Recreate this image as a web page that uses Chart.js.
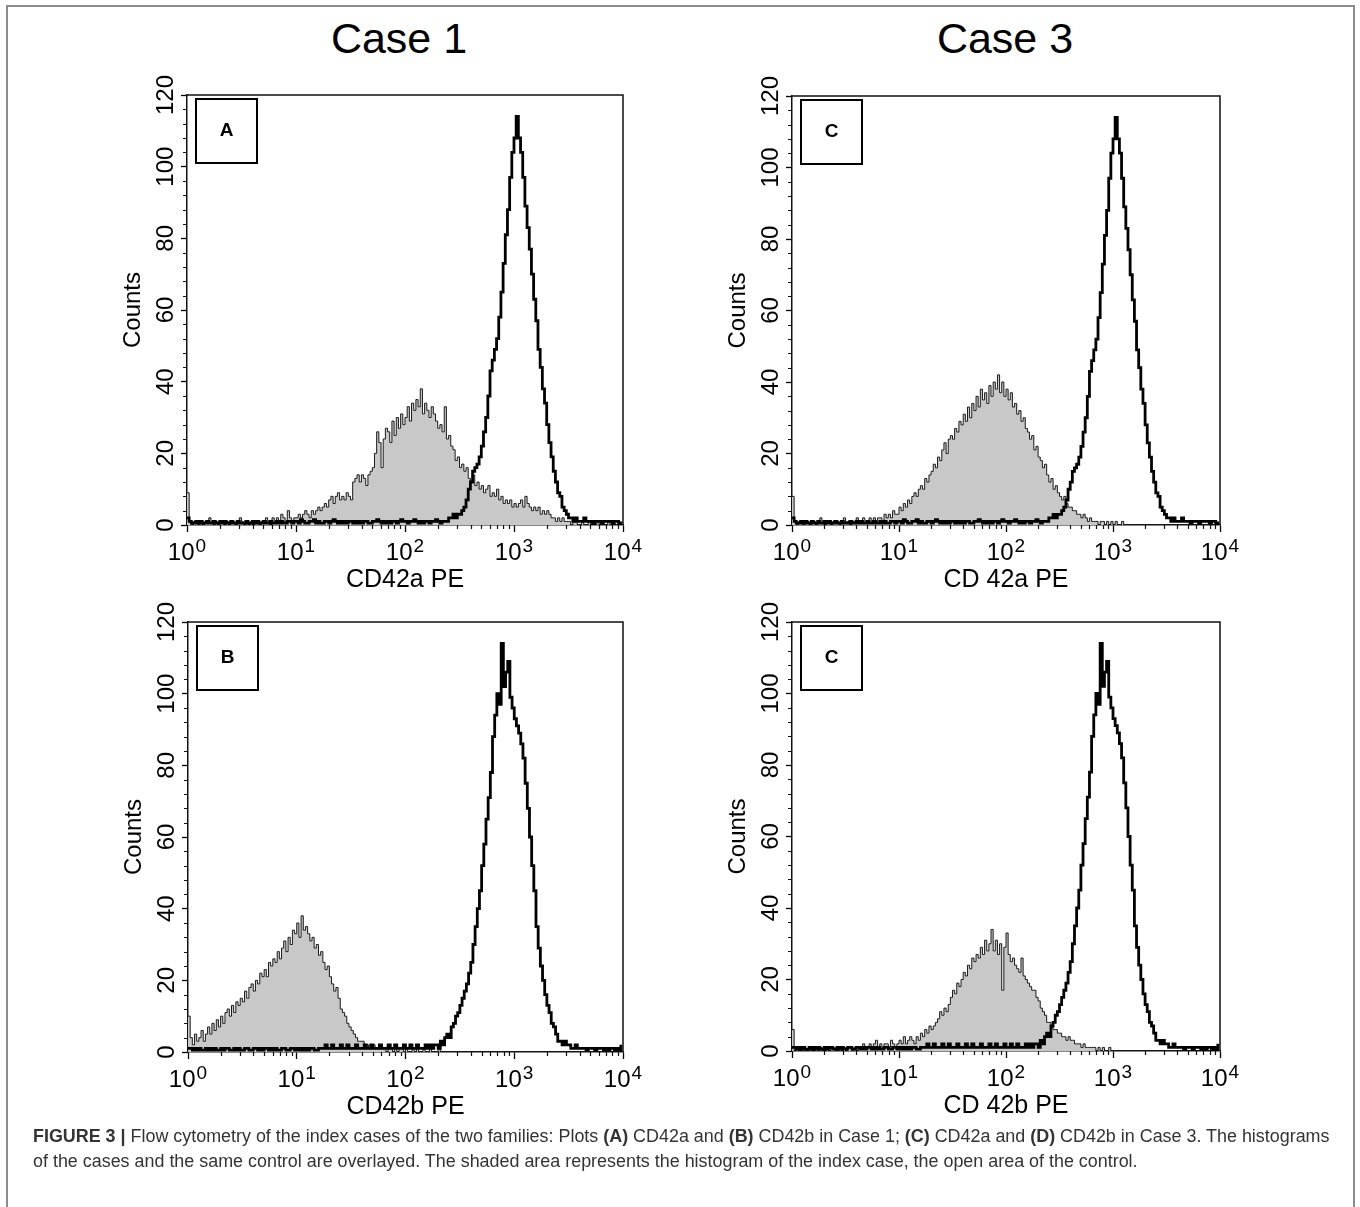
<!DOCTYPE html>
<html><head><meta charset="utf-8">
<script src="https://cdn.jsdelivr.net/npm/chart.js@4.4.1/dist/chart.umd.min.js"></script>
<style>
html,body{margin:0;padding:0;background:#fff;}
body{width:1360px;height:1207px;position:relative;overflow:hidden;font-family:"Liberation Sans",Arial,sans-serif;}
#frame{position:absolute;left:6px;top:5px;width:1349px;height:1220px;border:2px solid #8c8c8c;box-sizing:border-box;}
.case{position:absolute;top:10px;font-size:43px;line-height:56px;color:#000;text-align:center;width:300px;}
canvas{position:absolute;}
.cap{position:absolute;left:33px;color:#333;font-size:16px;line-height:25px;white-space:nowrap;}
#warn{position:absolute;left:10px;top:10px;color:red;font-size:14px;}
</style></head><body>
<div id="frame"></div>
<div class="case" id="t1" style="left:249px"></div>
<div class="case" id="t2" style="left:855px"></div>
<canvas id="cA" width="560" height="540" style="left:100px;top:60px;width:560px;height:540px"></canvas>
<canvas id="cB" width="560" height="540" style="left:100px;top:587px;width:560px;height:540px"></canvas>
<canvas id="cC" width="560" height="540" style="left:705px;top:60px;width:560px;height:540px"></canvas>
<canvas id="cD" width="560" height="539" style="left:705px;top:587px;width:560px;height:539px"></canvas>
<div class="cap" id="cap1" style="top:1124px"><b>FIGURE 3 |</b> Flow cytometry of the index cases of the two families: Plots <b>(A)</b> CD42a and <b>(B)</b> CD42b in Case 1; <b>(C)</b> CD42a and <b>(D)</b> CD42b in Case 3. The histograms</div>
<div class="cap" id="cap2" style="top:1149px">of the cases and the same control are overlayed. The shaded area represents the histogram of the index case, the open area of the control.</div>
<div id="warn"></div>
<script>
// ---------- data (histogram counts per channel, 50 channels per decade, from 10^0) ----------
const CHANNELS_PER_DECADE = 50;
const caseTitles = ['Case 1', 'Case 3'];
const panelLetters = ['A', 'B', 'C', 'C'];
const xAxisTitles = ['CD42a PE', 'CD42b PE', 'CD 42a PE', 'CD 42b PE'];
const yAxisTitle = 'Counts';
const xTickExponents = [0, 1, 2, 3, 4];
const yTicks = [0, 20, 40, 60, 80, 100, 120];
const yMinorStep = 4;

const caseA_CD42a = [
9,1,0,1,1,0,1,0,1,1, 2,1,0,1,0,1,1,0,1,0, 1,1,0,1,2,1,0,1,0,1, 0,1,1,0,1,1,2,1,0,2, 1,2,1,3,2,1,4,2,1,2,
2,3,2,3,4,3,2,4,3,4, 5,4,5,6,5,7,8,6,8,9, 7,8,7,9,8,7,12,13,14,12, 14,13,11,14,15,16,20,26,23,16, 24,27,26,23,29,25,30,27,31,28,
30,33,29,34,32,35,33,38,31,34, 32,30,33,31,29,27,28,26,33,24, 25,22,21,18,19,16,17,15,16,13, 12,14,11,12,10,11,9,10,11,8, 9,8,10,7,8,6,7,6,7,5,
6,5,6,7,5,8,6,5,4,5, 4,5,3,4,3,4,3,2,2,1, 2,1,2,1,1,1,0,1,1,0, 0,1,0,0,1,0,0,0,1,0, 0,0,0,1,0,0,0,0,0,0
];
const control_CD42a = [
2,1,0.5,0.5,1,0.5,1,0.5,0.5,1, 0.5,0.5,1,0.5,0.5,1,0.5,1,0.5,0.5, 1,0.5,0.5,1,0.5,0.5,0.5,1,0.5,0.5, 1,0.5,1,0.5,0.5,1,0.5,0.5,1,0.5, 0.5,1,0.5,1,0.5,0.5,1,1,0.5,1,
1,0.5,1.5,1,0.5,0.5,1,1,1.5,0.5, 1,0.5,0.5,1,1,0.5,1,1.5,1,0.5, 1,0.5,1,0.5,1,1,0.5,1,0.5,1, 0.5,1,1,0.5,0.5,1,1,1.5,1,0.5, 1,0.5,1,0.5,1,1,0.5,1,1.5,1,
1,0.5,1,1,1.5,1,0.5,1,0.5,1, 1,0.5,1,1,1.5,1,0.5,1,1,1, 2,2,3,2,3,3,4,5,7,10, 12,15,16,17,19,22,26,30,36,43, 46,49,52,58,65,73,81,88,97,104,
108,114,108,104,97,89,83,77,70,63, 57,49,44,38,34,28,23,19,15,12, 9,8,5,4,3,2,2,1,2,1, 1,1,2,1,1,1,0.5,1,1,1, 0.5,1,1,1,1,0.5,1,1,0.5,1
];
const caseB_CD42b = [
10,4,2,5,3,4,6,3,5,7, 5,8,6,9,7,10,8,11,12,10, 13,11,14,13,15,14,17,15,18,19, 17,20,19,22,21,23,21,25,24,26, 25,28,26,29,31,28,32,30,34,33,
36,32,38,34,35,33,31,32,29,30, 27,28,25,23,24,21,19,17,18,15, 12,11,10,8,7,6,5,4,3,3, 3,2,2,1,2,2,1,1,1,1, 1,0,1,1,0,1,0,1,1,0,
1,0,0,1,0,1,0,0,1,0, 0,1,0,0,0,1,0,0,0,0, 0,0,0,0,0,0,0,0,0,0, 0,0,0,0,0,0,0,0,0,0, 0,0,0,0,0,0,0,0,0,0,
0,0,0,0,0,0,0,0,0,0, 0,0,0,0,0,0,0,0,0,0, 0,0,0,0,0,0,0,0,0,0, 0,0,0,0,0,0,0,0,0,0, 0,0,0,0,0,0,0,0,0,0
];
const control_CD42b = [
1,1,0.5,1,0.5,1,0.5,0.5,1,0.5, 1,0.5,1,0.5,0.5,1,0.5,1,1,0.5, 0.5,1,0.5,1,0.5,0.5,1,1,0.5,0.5, 1,1,0.5,1,0.5,1,1,0.5,1,0.5, 1,0.5,0.5,1,1,0.5,0.5,1,1,0.5,
1,0.5,1,0.5,1,0.5,1,1,0.5,0.5, 1,1,1,2,1,1,2,1,1,1, 2,1,1,2,1,1,1,2,1,1, 1,2,1,1,2,1,1,1,2,1, 1,1,2,1,1,2,1,1,1,2,
1,1,2,1,1,2,1,1,1,2, 1,2,1,2,2,1,3,2,4,5, 4,7,8,10,11,13,15,17,19,22, 25,30,35,40,45,52,58,65,71,78, 88,94,100,97,114,102,106,109,99,96,
93,91,89,86,82,75,68,60,52,45, 35,29,24,20,16,13,11,8,7,5, 3,3,2,3,2,2,1,1,2,1, 1,1,1,0.5,1,1,1,0.5,1,1, 1,0.5,1,0.5,1,1,0.5,1,0.5,2
];
const caseC_CD42a = [
8,1,0,1,1,0,1,1,0,1, 1,0,1,2,1,0,1,1,0,1, 1,1,0,1,2,1,1,0,1,1, 2,1,1,2,1,1,2,1,2,1, 2,2,1,3,2,3,2,4,3,3,
5,4,6,5,7,6,8,9,8,10, 11,10,13,12,14,15,17,16,19,18, 21,23,20,24,25,24,27,26,29,28, 31,29,33,30,34,32,36,33,38,35, 37,34,39,36,40,38,42,37,40,36,
38,35,37,33,34,31,32,29,30,27, 26,24,25,21,22,19,18,16,17,14, 12,13,10,11,9,8,7,8,6,5, 5,4,4,3,3,2,3,2,1,2, 1,1,1,0,1,1,0,1,0,1,
0,1,0,0,1,0,0,0,0,0, 0,0,0,0,0,0,0,0,0,0, 0,0,0,0,0,0,0,0,0,0, 0,0,0,0,0,0,0,0,0,0, 0,0,0,0,0,0,0,0,0,0
];
const caseD_CD42b = [
6,0,1,0,0,1,0,0,1,0, 0,1,0,1,0,0,1,0,1,1, 0,0,1,0,1,0,1,1,0,1, 0,1,1,2,1,1,2,1,2,3, 1,2,1,2,2,1,3,2,1,2,
3,2,4,2,3,4,3,2,4,3, 5,4,6,5,7,6,7,8,9,11, 10,12,11,13,15,17,16,19,18,20, 22,21,24,23,26,25,27,26,29,27, 31,28,30,34,28,31,27,30,17,29,
33,27,25,26,24,23,22,26,21,20, 19,18,17,17,15,14,12,11,10,8, 8,7,6,6,5,5,4,4,3,4, 3,3,2,2,2,1,2,1,1,1, 1,1,0,1,0,1,0,0,1,0,
0,0,0,0,0,0,0,0,0,0, 0,0,0,0,0,0,0,0,0,0, 0,0,0,0,0,0,0,0,0,0, 0,0,0,0,0,0,0,0,0,0, 0,0,0,0,0,0,0,0,0,0
];

// ---------- helpers ----------
const FONT = '"Liberation Sans", Arial, sans-serif';
const toPoints = arr => arr.map((v, i) => ({ x: Math.pow(10, i / CHANNELS_PER_DECADE), y: v }));

const bad = [caseA_CD42a, control_CD42a, caseB_CD42b, control_CD42b, caseC_CD42a, caseD_CD42b]
  .map(a => a.length).filter(n => n !== 200);
if (bad.length) document.getElementById('warn').textContent = 'LEN ' + bad.join(',');

document.getElementById('t1').textContent = caseTitles[0];
document.getElementById('t2').textContent = caseTitles[1];

const decorPlugin = {
  id: 'decor',
  afterDraw(chart, args, o) {
    const { ctx, chartArea: a, scales: { x, y } } = chart;
    ctx.save();
    ctx.strokeStyle = '#111';
    ctx.lineWidth = 1.5;
    ctx.beginPath();
    ctx.moveTo(a.left, a.top); ctx.lineTo(a.right, a.top); ctx.lineTo(a.right, a.bottom);
    ctx.stroke();
    // minor ticks
    ctx.lineWidth = 1.2;
    ctx.beginPath();
    for (let e = xTickExponents[0]; e < xTickExponents[xTickExponents.length - 1]; e++) {
      for (let k = 2; k <= 9; k++) {
        const px = Math.round(x.getPixelForValue(k * Math.pow(10, e))) + 0.5;
        ctx.moveTo(px, a.bottom); ctx.lineTo(px, a.bottom + 4);
      }
    }
    for (let v = yTicks[0]; v <= yTicks[yTicks.length - 1]; v += yMinorStep) {
      if (yTicks.includes(v)) continue;
      const py = Math.round(y.getPixelForValue(v)) + 0.5;
      ctx.moveTo(a.left, py); ctx.lineTo(a.left - 4, py);
    }
    ctx.stroke();
    ctx.fillStyle = '#000';
    // x tick labels 10^n
    ctx.textAlign = 'left'; ctx.textBaseline = 'alphabetic';
    for (const e of xTickExponents) {
      const px = x.getPixelForValue(Math.pow(10, e));
      ctx.font = '24px ' + FONT; const w1 = ctx.measureText('10').width;
      ctx.font = '19px ' + FONT; const w2 = ctx.measureText(String(e)).width;
      const s = px - (w1 + w2 + 1) / 2;
      ctx.font = '24px ' + FONT; ctx.fillText('10', s, a.bottom + 35);
      ctx.font = '19px ' + FONT; ctx.fillText(String(e), s + w1 + 1, a.bottom + 27);
    }
    // y tick labels, rotated
    ctx.font = '24px ' + FONT; ctx.textAlign = 'center';
    for (const v of yTicks) {
      const py = y.getPixelForValue(v);
      ctx.save(); ctx.translate(a.left - 14, py); ctx.rotate(-Math.PI / 2);
      ctx.fillText(String(v), 0, 0); ctx.restore();
    }
    // axis titles
    ctx.save(); ctx.translate(a.left - 47, (a.top + a.bottom) / 2); ctx.rotate(-Math.PI / 2);
    ctx.fillText(yAxisTitle, 0, 0); ctx.restore();
    ctx.font = '25px ' + FONT;
    ctx.fillText(o.xTitle, (a.left + a.right) / 2, a.bottom + 62);
    // panel letter box
    ctx.lineWidth = 2; ctx.strokeStyle = '#000';
    ctx.strokeRect(a.left + 9, a.top + 4, 61, 64);
    ctx.font = 'bold 19px ' + FONT; ctx.textBaseline = 'middle';
    ctx.fillText(o.letter, a.left + 39.5, a.top + 36);
    ctx.restore();
  }
};

function makeChart(id, caseData, controlData, idx, pad, yWidth) {
  new Chart(document.getElementById(id), {
    type: 'line',
    data: {
      datasets: [
        { label: 'Control', data: toPoints(controlData), borderColor: '#000', borderWidth: 2.8,
          fill: false, stepped: true, pointRadius: 0, order: 0 },
        { label: 'Index case', data: toPoints(caseData), borderColor: '#1a1a1a', borderWidth: 1,
          backgroundColor: '#c8c8c8', fill: 'origin', stepped: true, pointRadius: 0, order: 1 }
      ]
    },
    options: {
      responsive: false, animation: false, events: [],
      layout: { padding: pad },
      plugins: { legend: { display: false }, tooltip: { enabled: false },
                 decor: { letter: panelLetters[idx], xTitle: xAxisTitles[idx] } },
      scales: {
        x: { type: 'logarithmic', min: 1, max: 10000, position: 'bottom',
             afterBuildTicks: s => { s.ticks = xTickExponents.map(e => ({ value: Math.pow(10, e), major: true })); },
             afterFit: s => { s.height = 75; },
             ticks: { display: false },
             grid: { drawOnChartArea: false, tickLength: 7, color: '#000', tickWidth: 1.3 },
             border: { display: true, color: '#111', width: 1.5 } },
        y: { type: 'linear', min: 0, max: 120, position: 'left',
             afterBuildTicks: s => { s.ticks = yTicks.map(v => ({ value: v })); },
             afterFit: s => { s.width = yWidth; },
             ticks: { display: false },
             grid: { drawOnChartArea: false, tickLength: 6, color: '#000', tickWidth: 1.3 },
             border: { display: true, color: '#111', width: 1.5 } }
      }
    },
    plugins: [decorPlugin]
  });
}

makeChart('cA', caseA_CD42a, control_CD42a, 0, { top: 35, right: 37, left: 0, bottom: 0 }, 87);
makeChart('cB', caseB_CD42b, control_CD42b, 1, { top: 35, right: 37, left: 0, bottom: 0 }, 88);
makeChart('cC', caseC_CD42a, control_CD42a, 2, { top: 36, right: 45, left: 0, bottom: 0 }, 87);
makeChart('cD', caseD_CD42b, control_CD42b, 3, { top: 35, right: 45, left: 0, bottom: 0 }, 87);

// fit caption line width to reference (~1297px)
const c1 = document.getElementById('cap1'), c2 = document.getElementById('cap2');
const w = c1.getBoundingClientRect().width;
const fs = 16 * 1297 / w;
c1.style.fontSize = fs + 'px'; c2.style.fontSize = fs + 'px';
</script>
</body></html>
